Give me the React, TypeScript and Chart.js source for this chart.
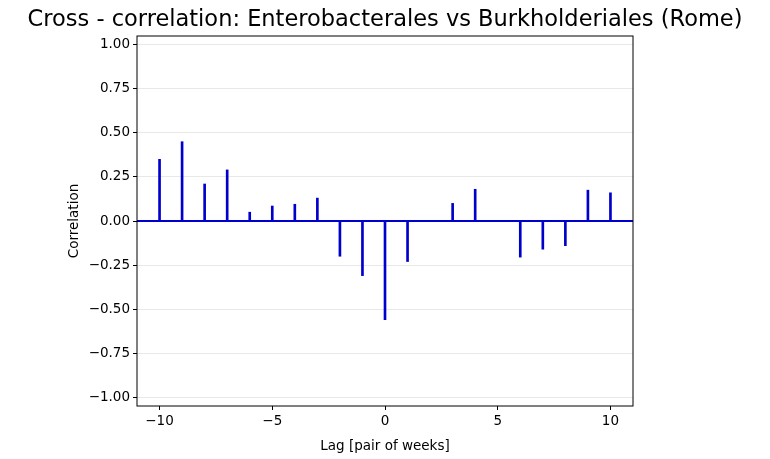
import React, { useEffect, useRef } from "react";
import { Chart, registerables } from "chart.js";
Chart.register(...registerables);

const lags = [-10, -9, -8, -7, -6, -5, -4, -3, -2, -1, 0, 1, 2, 3, 4, 5, 6, 7, 8, 9, 10];
const corr = [0.35, 0.45, 0.21, 0.29, 0.05, 0.085, 0.095, 0.13, -0.2, -0.31, -0.56, -0.23, 0.0, 0.1, 0.18, 0.0, -0.205, -0.16, -0.14, 0.175, 0.16];
const yTicks = [-1, -0.75, -0.5, -0.25, 0, 0.25, 0.5, 0.75, 1];
const xTicks = [-10, -5, 0, 5, 10];
const titleText = "Cross - correlation: Enterobacterales vs Burkholderiales (Rome)";
const FONT = "'DejaVu Sans', sans-serif";

export default function App() {
  const ref = useRef<HTMLCanvasElement>(null);
  useEffect(() => {
    const frame = {
      id: "frame",
      afterDraw(c: any) {
        const { ctx, chartArea: a } = c;
        ctx.save();
        ctx.strokeStyle = "#000";
        ctx.lineWidth = 1;
        ctx.strokeRect(a.left, a.top, a.right - a.left, a.bottom - a.top);
        ctx.fillStyle = "#000";
        ctx.font = `22.5px ${FONT}`;
        ctx.textAlign = "center";
        ctx.textBaseline = "middle";
        ctx.fillText(titleText, 385, 20);
        ctx.restore();
      },
    };
    const chart = new Chart(ref.current!, {
      type: "bar",
      data: {
        datasets: [
          {
            type: "line",
            data: [{ x: -11, y: 0 }, { x: 11, y: 0 }],
            borderColor: "#0000cc",
            borderWidth: 2,
            pointRadius: 0,
          } as any,
          {
            data: lags.map((l, i) => ({ x: l, y: corr[i] })),
            backgroundColor: "#0000cc",
            barThickness: 2,
          },
        ],
      },
      options: {
        animation: false,
        responsive: false,
        layout: { padding: { top: 36, right: 137, left: 62 } },
        plugins: { legend: { display: false }, tooltip: { enabled: false } },
        scales: {
          x: {
            type: "linear",
            offset: false,
            min: -11,
            max: 11,
            afterBuildTicks: (s: any) => { s.ticks = xTicks.map((v) => ({ value: v })); },
            afterFit: (s: any) => { s.height = 53; },
            grid: { offset: false, color: "transparent", tickColor: "#000", tickLength: 4 },
            border: { display: false },
            ticks: { color: "#000", font: { family: FONT, size: 13.5 }, callback: (v: any) => (v < 0 ? "\u2212" + Math.abs(v) : String(v)) },
            title: { display: true, text: "Lag [pair of weeks]", color: "#000", font: { family: FONT, size: 13.5 }, padding: { top: 2 } },
          },
          y: {
            min: -1.05,
            max: 1.05,
            afterBuildTicks: (s: any) => { s.ticks = yTicks.map((v) => ({ value: v })); },
            afterFit: (s: any) => { s.width = 75; },
            grid: { color: "#e8e8e8", tickColor: "#000", tickLength: 4 },
            border: { display: false },
            ticks: { color: "#000", font: { family: FONT, size: 13.5 }, callback: (v: any) => (v < 0 ? "\u2212" + Math.abs(v).toFixed(2) : Number(v).toFixed(2)) },
            title: { display: true, text: "Correlation", color: "#000", font: { family: FONT, size: 13.5 } },
          },
        },
      },
      plugins: [frame],
    });
    return () => chart.destroy();
  }, []);
  return (
    <div style={{ position: "absolute", left: 0, top: 0 }}>
      <canvas ref={ref} width={770} height={459} />
    </div>
  );
}
